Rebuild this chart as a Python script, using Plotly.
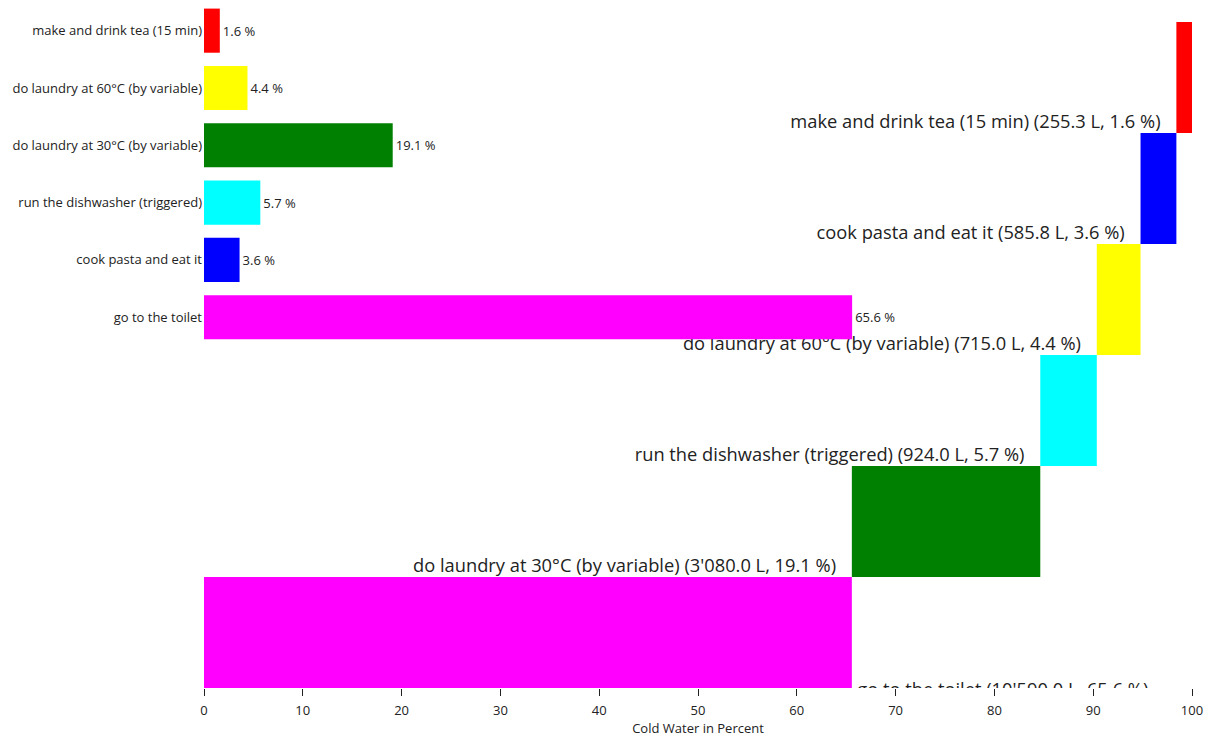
import numpy as np
import plotly.graph_objects as go

categories = ["make and drink tea (15 min)", "do laundry at 60°C (by variable)",
              "do laundry at 30°C (by variable)", "run the dishwasher (triggered)",
              "cook pasta and eat it", "go to the toilet"]
liters = [255.3, 715.0, 3080.0, 924.0, 585.8, 10590.0]
percent = [1.6, 4.4, 19.1, 5.7, 3.6, 65.6]
colors = ["#ff0000", "#ffff00", "#008000", "#00ffff", "#0000ff", "#ff00ff"]
x_ticks = [0, 10, 20, 30, 40, 50, 60, 70, 80, 90, 100]

LABEL_FONT = "Open Sans, Noto Sans, sans-serif"
TXT = "#222222"

fig = go.Figure()

# --- cascade (right part) ---
order = np.argsort(percent)[::-1]  # descending
share = np.array(liters) / np.sum(liters) * 100
sorted_share = share[order]
lefts = np.concatenate([[0], np.cumsum(sorted_share)[:-1]])
n = len(order)

def fmt_l(v):
    return f"{v:,.1f}".replace(",", "'")

for pos, idx in enumerate(order):
    fig.add_trace(go.Bar(
        x=[sorted_share[pos]], y=[pos + 0.5], base=[lefts[pos]], orientation="h",
        width=1, marker=dict(color=colors[idx], line=dict(width=0)),
        xaxis="x", yaxis="y", showlegend=False, hoverinfo="skip"))

label_x, label_y, label_t, label_pos = [], [], [], []
for pos, idx in enumerate(order):
    txt = f"{categories[idx]} ({fmt_l(liters[idx])} L, {percent[idx]:.1f} %)"
    if pos == 0:
        label_x.append(lefts[pos] + sorted_share[pos] + 0.55)
        label_y.append(pos - 0.03)
        label_pos.append("middle right")
    else:
        label_x.append(lefts[pos] - 1.6)
        label_y.append(pos)
        label_pos.append("top left")
    label_t.append(txt)

for xx, yy, tt, pp in zip(label_x, label_y, label_t, label_pos):
    fig.add_trace(go.Scatter(
        x=[xx], y=[yy], mode="text", text=[tt], textposition=pp,
        textfont=dict(family=LABEL_FONT, size=18.3, color=TXT),
        cliponaxis=True, xaxis="x", yaxis="y", showlegend=False, hoverinfo="skip"))

# --- bar chart (top-left) ---
fig.add_trace(go.Bar(
    x=percent, y=categories, orientation="h", width=0.77,
    marker=dict(color=colors, line=dict(width=0)),
    text=[f"{p:.1f} %" for p in percent], textposition="outside",
    textfont=dict(family=LABEL_FONT, size=13, color=TXT),
    cliponaxis=False, xaxis="x", yaxis="y2", showlegend=False, hoverinfo="skip"))

fig.update_layout(
    width=1212, height=740,
    margin=dict(l=204, r=20, t=2, b=52, autoexpand=False),
    paper_bgcolor="white", plot_bgcolor="rgba(0,0,0,0)",
    font=dict(family=LABEL_FONT, color=TXT),
    xaxis=dict(range=[0, 100], tickvals=x_ticks, ticks="outside", ticklen=7,
               tickcolor="#222", showline=False, showgrid=False, zeroline=False,
               ticklabelstandoff=3,
               tickfont=dict(family=LABEL_FONT, size=13, color=TXT),
               title=dict(text="Cold Water in Percent", standoff=3,
                          font=dict(family=LABEL_FONT, size=13, color=TXT)),
               anchor="y", automargin=False),
    yaxis=dict(domain=[0, 0.9708], range=[0, n], visible=False, fixedrange=True),
    yaxis2=dict(domain=[0.4987, 1], anchor="x", type="category",
                categoryorder="array", categoryarray=categories[::-1],
                showgrid=False, zeroline=False, showline=False, ticks="",
                automargin=False, ticklabelstandoff=1,
                tickfont=dict(family=LABEL_FONT, size=13, color=TXT)),
)

fig.write_html("out.html", config={"displayModeBar": False},
               post_script="document.body.style.margin='0';")
